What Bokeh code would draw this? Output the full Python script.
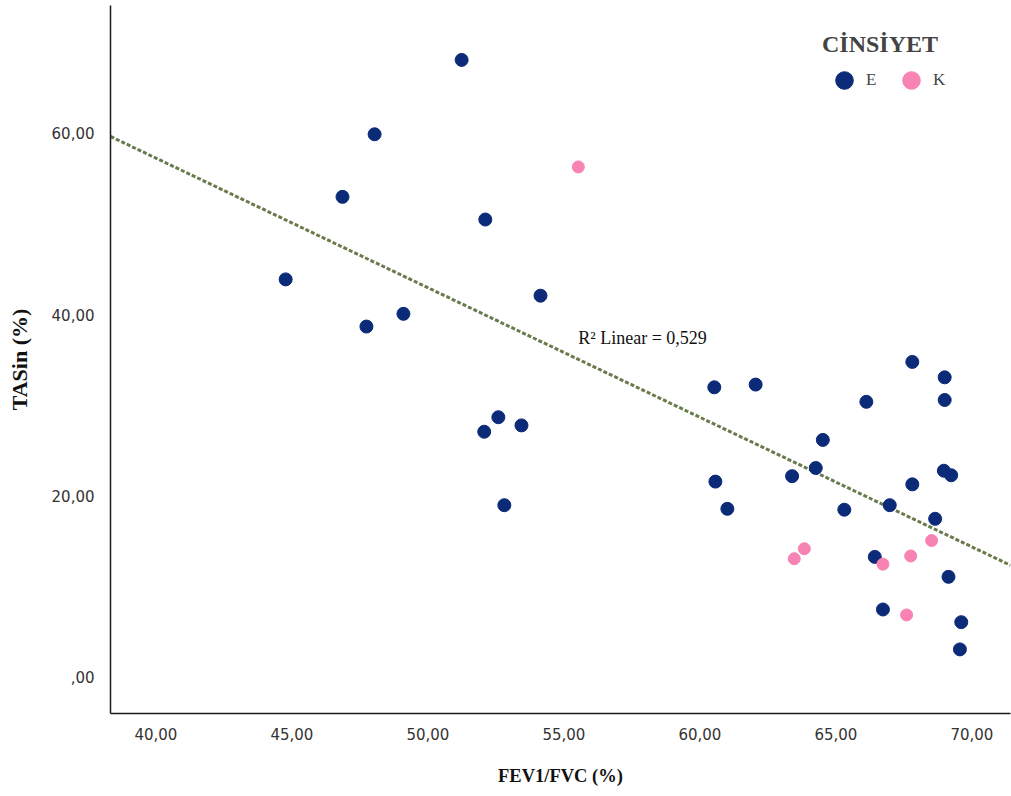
import numpy as np
from bokeh.plotting import figure
from bokeh.models import ColumnDataSource, Legend, LegendItem, Label, FixedTicker, Range1d
from bokeh.embed import file_html
from bokeh.resources import INLINE

# FEV1/FVC (%) and TASin (%) for men (E)
e_fev = [51.24, 48.04, 46.86, 52.11, 44.77, 54.14, 49.10, 47.74, 52.59, 52.07, 53.44, 52.81,
         60.53, 62.05, 60.57, 61.01, 67.81, 69.00, 69.00, 66.12, 64.52, 64.26, 63.39, 68.97,
         69.24, 67.81, 66.98, 65.31, 68.65, 66.43, 69.14, 66.73, 69.61, 69.56]
e_tas = [68.1, 59.9, 53.0, 50.5, 43.9, 42.1, 40.1, 38.7, 28.7, 27.1, 27.8, 19.0,
         32.0, 32.3, 21.6, 18.6, 34.8, 33.1, 30.6, 30.4, 26.2, 23.1, 22.2, 22.8,
         22.3, 21.3, 19.0, 18.5, 17.5, 13.3, 11.1, 7.5, 6.1, 3.1]
# women (K)
k_fev = [55.53, 68.52, 63.84, 63.47, 67.75, 66.73, 67.60]
k_tas = [56.3, 15.1, 14.2, 13.1, 13.4, 12.5, 6.9]

x_ticks = [40, 45, 50, 55, 60, 65, 70]
x_tick_labels = ["40,00", "45,00", "50,00", "55,00", "60,00", "65,00", "70,00"]
y_ticks = [0, 20, 40, 60]
y_tick_labels = [",00", "20,00", "40,00", "60,00"]
r2_text = "R\u00b2 Linear = 0,529"

x0, x1 = 38.33, 71.42
y0, y1 = -3.97, 74.1

p = figure(width=1011, height=796, output_backend="svg", toolbar_location=None,
           x_range=Range1d(x0, x1), y_range=Range1d(y0, y1),
           min_border_left=110, min_border_right=1, min_border_top=5, min_border_bottom=83)
p.outline_line_color = None
p.grid.visible = False
p.background_fill_color = "white"

for ax in (p.xaxis[0], p.yaxis[0]):
    ax.axis_line_color = "#1a1a1a"
    ax.axis_line_width = 1.5
    ax.major_tick_line_color = None
    ax.minor_tick_line_color = None
    ax.major_label_text_color = "#333333"
    ax.major_label_text_font = "DejaVu Sans"
    ax.major_label_text_font_size = "15px"
    ax.axis_label_text_font = "Liberation Serif"
    ax.axis_label_text_font_style = "bold"
    ax.axis_label_text_color = "#111111"

p.xaxis.ticker = FixedTicker(ticks=x_ticks)
p.xaxis.major_label_overrides = dict(zip(x_ticks, x_tick_labels))
p.xaxis.major_label_standoff = 8
p.xaxis.axis_label = "FEV1/FVC (%)"
p.xaxis.axis_label_text_font_size = "18.5px"
p.xaxis.axis_label_standoff = 23

p.yaxis.ticker = FixedTicker(ticks=y_ticks)
p.yaxis.major_label_overrides = dict(zip(y_ticks, y_tick_labels))
p.yaxis.major_label_standoff = 10
p.yaxis.axis_label = "TASin (%)"
p.yaxis.axis_label_text_font_size = "22px"
p.yaxis.axis_label_standoff = 17

# regression line (OLS on all points)
all_x = np.array(e_fev + k_fev)
all_y = np.array(e_tas + k_tas)
slope, intercept = np.polyfit(all_x, all_y, 1)
fx = [x0, x1]
fy = [intercept + slope * v for v in fx]
p.line(fx, fy, line_color="#687b4c", line_width=3, line_dash="4 2")

src_e = ColumnDataSource(dict(x=e_fev, y=e_tas))
src_k = ColumnDataSource(dict(x=k_fev, y=k_tas))
r_e = p.scatter("x", "y", source=src_e, size=13, fill_color="#0b2a78", line_color="#0b2a78")
r_k = p.scatter("x", "y", source=src_k, size=12, fill_color="#f783b4", line_color="#f783b4")

p.add_layout(Label(x=55.53, y=37.4, text=r2_text, text_font="Liberation Serif",
                   text_font_size="18px", text_baseline="middle", text_color="#111111"))

legend = Legend(items=[LegendItem(label="E", renderers=[r_e]), LegendItem(label="K", renderers=[r_k])],
                orientation="horizontal", location=(712, 611), title="C\u0130NS\u0130YET",
                title_text_font="Liberation Serif", title_text_font_style="bold",
                title_text_font_size="24px", title_standoff=0,
                label_text_font="Liberation Serif", label_text_font_size="17px",
                glyph_width=44, glyph_height=44, label_standoff=0, spacing=3,
                padding=0, margin=0, border_line_color=None, background_fill_alpha=0)
p.add_layout(legend)

open("out.html", "w").write(file_html(p, INLINE))
